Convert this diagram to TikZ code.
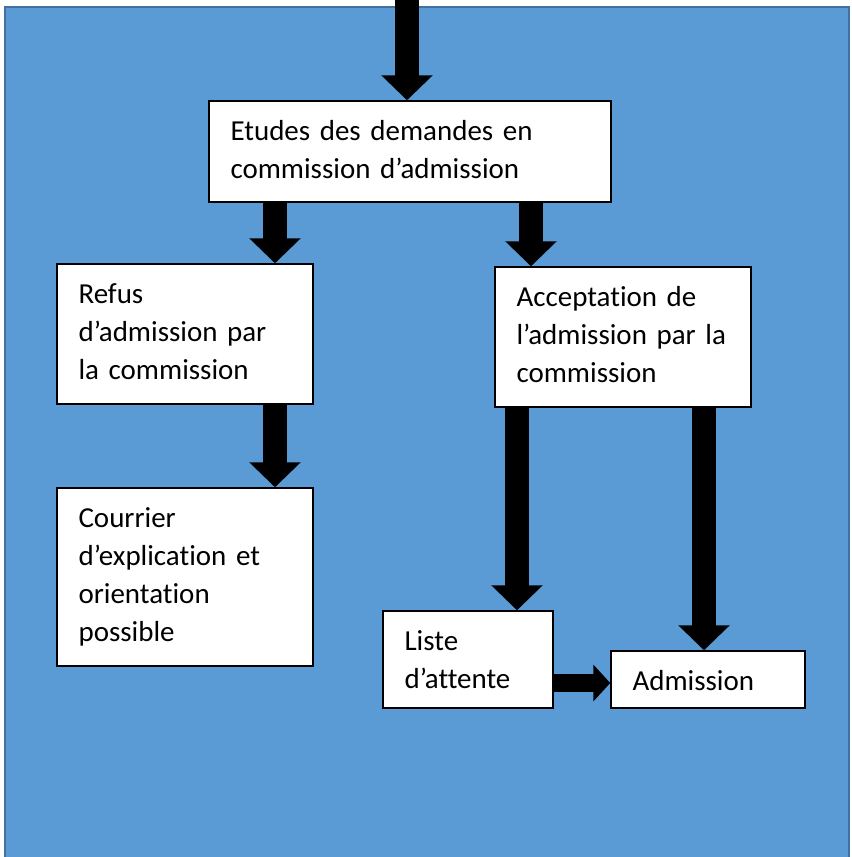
\documentclass[tikz,border=0pt]{standalone}
\usepackage{fontspec}
\setmainfont{Carlito}[Ligatures={NoCommon}]
\usetikzlibrary{arrows.meta}
\definecolor{bgblue}{HTML}{5B9BD5}
\definecolor{bgedge}{HTML}{41719C}

\begin{document}
\begin{tikzpicture}[x=0.025cm, y=-0.025cm,
	box/.style={shape=rectangle, draw=black, fill=white, line width=1pt, inner sep=0pt},
	boxtext/.style={anchor=base west, align=left, inner sep=0pt, text width=8cm, font=\fontsize{20.6}{27}\selectfont},
	blockarrow/.style={line width=0.6cm, -{Triangle[length=0.625cm, width=1.25cm]}},
	sidearrow/.style={line width=0.45cm, -{Triangle[length=0.425cm, width=0.9cm]}}]
	% Background, boxes, texts and arrows:
	\useasboundingbox (0,0) rectangle (851,857);
	\draw[fill=bgblue, draw=bgedge, line width=1.2pt] (5,7) rectangle (849,880);
	\coordinate (top) at (407,0);
	\coordinate (c1) at (275,0);
	\coordinate (c2) at (531,0);
	\coordinate (c3) at (517,0);
	\coordinate (c4) at (704,0);
	\coordinate (r1) at (0,683);
	\node[box, minimum width=10.05cm, minimum height=2.525cm] (etudes) at (410,151.5){};
	\node[box, minimum width=6.4cm, minimum height=3.5cm] (refus) at (185,334){};
	\node[box, minimum width=6.4cm, minimum height=3.5cm] (accept) at (623,337){};
	\node[box, minimum width=6.4cm, minimum height=4.45cm] (courrier) at (185,577){};
	\node[box, minimum width=4.25cm, minimum height=2.425cm] (liste) at (468,659.5){};
	\node[box, minimum width=4.85cm, minimum height=1.425cm] (admission) at (708,679.5){};
	\node[boxtext] (etudes-t) at ([shift={(22,40)}]etudes.north west){Etudes des demandes en\\commission d’admission};
	\node[boxtext] (refus-t) at ([shift={(22,40)}]refus.north west){Refus\\d’admission par\\la commission};
	\node[boxtext] (accept-t) at ([shift={(22,40)}]accept.north west){Acceptation de\\l’admission par la\\commission};
	\node[boxtext] (courrier-t) at ([shift={(22,40)}]courrier.north west){Courrier\\d’explication et\\orientation\\possible};
	\node[boxtext] (liste-t) at ([shift={(22,40)}]liste.north west){Liste\\d’attente};
	\node[boxtext] (admission-t) at ([shift={(22,40)}]admission.north west){Admission};
	\draw[blockarrow] (top) -- (etudes.north -| top);
	\draw[blockarrow] (etudes.south -| c1) -- (refus.north -| c1);
	\draw[blockarrow] (etudes.south -| c2) -- (accept.north -| c2);
	\draw[blockarrow] (refus.south -| c1) -- (courrier.north -| c1);
	\draw[blockarrow] (accept.south -| c3) -- (liste.north -| c3);
	\draw[blockarrow] (accept.south -| c4) -- (admission.north -| c4);
	\draw[sidearrow] (liste.east |- r1) -- (admission.west |- r1);
\end{tikzpicture}
\end{document}
